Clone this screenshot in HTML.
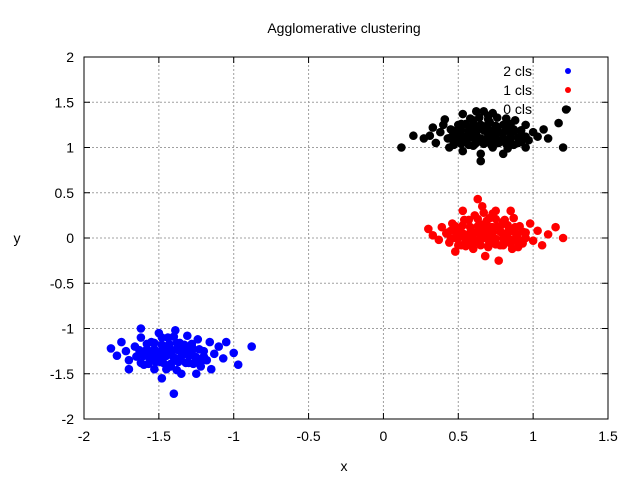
<!DOCTYPE html>
<html><head><meta charset="utf-8"><style>
body{margin:0;background:#fff;}
svg{display:block;font-family:"Liberation Sans",sans-serif;}
</style></head><body>
<svg id="chart" width="640" height="480" viewBox="0 0 640 480">
<rect width="640" height="480" fill="#fff"/>
<g id="grid"></g>
<g id="axes"></g>
<g id="legend"></g>
<g id="pts"></g>
<text x="344" y="33" text-anchor="middle" font-size="14">Agglomerative clustering</text>
<text x="344" y="471" text-anchor="middle" font-size="14">x</text>
<text x="17" y="243" text-anchor="middle" font-size="14">y</text>
</svg>
<script>
const xTicks=[-2,-1.5,-1,-0.5,0,0.5,1,1.5];
const yTicks=[-2,-1.5,-1,-0.5,0,0.5,1,1.5,2];
const seriesNames=["2 cls","1 cls","0 cls"];
const seriesColors=["#0000ff","#ff0000","#000000"];
const cls0=[[0.12,1.0],[0.2,1.13],[0.27,1.1],[0.33,1.22],[0.35,1.05],[0.38,1.17],[0.41,1.31],[0.43,1.1],[0.45,1.2],[0.47,1.03],[0.5,1.14],[0.52,1.26],[0.53,0.96],[0.55,1.08],[0.57,1.19],[0.6,1.3],[0.6,1.02],[0.62,1.13],[0.64,1.24],[0.65,0.93],[0.67,1.06],[0.69,1.17],[0.7,1.35],[0.71,1.28],[0.73,1.0],[0.74,1.11],[0.76,1.22],[0.78,1.07],[0.8,1.16],[0.82,1.27],[0.83,0.99],[0.85,1.1],[0.87,1.2],[0.9,1.05],[0.92,1.14],[0.95,1.25],[0.97,1.08],[1.0,1.17],[1.03,1.12],[1.07,1.2],[1.1,1.1],[1.17,1.27],[1.2,1.0],[1.22,1.42],[0.65,0.85],[0.53,1.37],[0.44,1.0],[0.58,1.12],[0.68,1.22],[0.75,1.15],[0.88,1.3],[0.4,1.25],[0.31,1.13],[0.95,1.0],[0.8,0.93],[0.62,1.4],[0.72,1.05],[0.85,1.18],
[0.47,1.05],[0.52,1.04],[0.57,1.03],[0.62,1.05],[0.67,1.04],[0.72,1.03],[0.77,1.05],[0.82,1.04],[0.87,1.03],[0.92,1.06],
[0.45,1.11],[0.5,1.1],[0.55,1.12],[0.6,1.11],[0.65,1.1],[0.7,1.12],[0.75,1.11],[0.8,1.1],[0.85,1.12],[0.9,1.11],[0.95,1.12],
[0.47,1.18],[0.52,1.19],[0.57,1.18],[0.62,1.17],[0.67,1.19],[0.72,1.18],[0.77,1.17],[0.82,1.19],[0.87,1.18],[0.92,1.19],
[0.5,1.25],[0.55,1.26],[0.6,1.24],[0.65,1.25],[0.7,1.26],[0.75,1.24],[0.8,1.25],[0.85,1.26],
[0.58,1.32],[0.64,1.33],[0.7,1.31],[0.76,1.33],[0.82,1.32],[0.73,1.38],[0.67,1.4]];
const cls1=[[0.3,0.1],[0.33,0.03],[0.37,-0.02],[0.39,0.12],[0.42,0.05],[0.44,-0.05],[0.46,0.16],[0.48,0.0],[0.5,0.09],[0.52,-0.08],[0.54,0.2],[0.55,0.03],[0.57,-0.03],[0.58,0.12],[0.6,-0.12],[0.61,0.25],[0.62,0.06],[0.64,-0.05],[0.65,0.15],[0.66,0.35],[0.67,0.0],[0.69,0.1],[0.7,-0.1],[0.71,0.22],[0.72,0.04],[0.74,-0.04],[0.75,0.3],[0.76,0.13],[0.78,-0.08],[0.79,0.06],[0.8,0.18],[0.82,-0.02],[0.84,0.1],[0.86,-0.12],[0.87,0.22],[0.89,0.03],[0.91,0.13],[0.93,-0.06],[0.95,0.06],[0.98,0.16],[1.0,-0.03],[1.03,0.08],[1.06,-0.08],[1.1,0.04],[1.15,0.12],[1.2,0.0],[0.77,-0.25],[0.63,0.43],[0.53,0.3],[0.85,0.3],[0.48,-0.15],[0.68,-0.2],[0.58,0.05],[0.72,0.12],[0.8,0.0],[0.66,0.08],[0.45,0.08],[0.9,-0.1],
[0.5,-0.08],[0.55,-0.09],[0.6,-0.07],[0.65,-0.08],[0.7,-0.09],[0.75,-0.07],[0.8,-0.08],[0.85,-0.06],[0.9,-0.05],
[0.45,-0.01],[0.5,0.0],[0.55,-0.02],[0.6,-0.01],[0.65,0.0],[0.7,-0.02],[0.75,-0.01],[0.8,0.0],[0.85,-0.02],[0.9,-0.01],[0.95,0.0],
[0.43,0.06],[0.48,0.07],[0.53,0.05],[0.58,0.06],[0.63,0.07],[0.68,0.05],[0.73,0.06],[0.78,0.07],[0.83,0.05],[0.88,0.06],[0.93,0.07],
[0.48,0.13],[0.53,0.14],[0.58,0.12],[0.63,0.13],[0.68,0.14],[0.73,0.12],[0.78,0.13],[0.83,0.14],[0.88,0.12],
[0.57,0.2],[0.63,0.21],[0.69,0.19],[0.75,0.21],[0.81,0.2],[0.67,0.28],[0.73,0.27]];
const cls2=[[-1.82,-1.22],[-1.78,-1.3],[-1.75,-1.15],[-1.72,-1.25],[-1.7,-1.35],[-1.66,-1.2],[-1.64,-1.3],[-1.62,-1.1],[-1.6,-1.4],[-1.58,-1.23],[-1.56,-1.33],[-1.55,-1.15],[-1.53,-1.45],[-1.52,-1.27],[-1.5,-1.05],[-1.49,-1.37],[-1.47,-1.2],[-1.45,-1.3],[-1.44,-1.1],[-1.42,-1.42],[-1.41,-1.24],[-1.39,-1.02],[-1.38,-1.34],[-1.36,-1.16],[-1.35,-1.5],[-1.33,-1.27],[-1.31,-1.08],[-1.3,-1.38],[-1.28,-1.2],[-1.26,-1.31],[-1.24,-1.12],[-1.22,-1.42],[-1.2,-1.25],[-1.18,-1.35],[-1.16,-1.15],[-1.13,-1.28],[-1.1,-1.2],[-1.07,-1.33],[-1.05,-1.15],[-1.0,-1.27],[-0.97,-1.4],[-0.88,-1.2],[-1.4,-1.72],[-1.48,-1.55],[-1.62,-1.0],[-1.25,-1.5],[-1.53,-1.27],[-1.43,-1.27],[-1.37,-1.24],[-1.47,-1.3],[-1.3,-1.22],[-1.6,-1.3],[-1.15,-1.45],[-1.7,-1.45],
[-1.62,-1.38],[-1.57,-1.39],[-1.52,-1.37],[-1.47,-1.38],[-1.42,-1.39],[-1.37,-1.37],[-1.32,-1.38],[-1.27,-1.39],[-1.22,-1.37],
[-1.65,-1.31],[-1.6,-1.3],[-1.55,-1.32],[-1.5,-1.31],[-1.45,-1.3],[-1.4,-1.32],[-1.35,-1.31],[-1.3,-1.3],[-1.25,-1.32],[-1.2,-1.31],
[-1.63,-1.24],[-1.58,-1.25],[-1.53,-1.23],[-1.48,-1.24],[-1.43,-1.25],[-1.38,-1.23],[-1.33,-1.24],[-1.28,-1.25],[-1.23,-1.23],
[-1.58,-1.17],[-1.53,-1.16],[-1.48,-1.18],[-1.43,-1.17],[-1.38,-1.16],[-1.33,-1.18],[-1.28,-1.17],[-1.48,-1.1],[-1.4,-1.09],[-1.45,-1.45],[-1.38,-1.46]];
const NS="http://www.w3.org/2000/svg";
const X0=84,X1=608,Y0=419,Y1=57;
function sx(v){return X0+(v+2)/3.5*(X1-X0);}
function sy(v){return Y0-(v+2)/4*(Y0-Y1);}
function mk(tag,attrs,parent){const e=document.createElementNS(NS,tag);for(const k in attrs)e.setAttribute(k,attrs[k]);parent.appendChild(e);return e;}
const grid=document.getElementById('grid'),axes=document.getElementById('axes'),pts=document.getElementById('pts'),leg=document.getElementById('legend');
xTicks.forEach(t=>{const x=sx(t);
 if(t>-2&&t<1.5){const g=mk('line',{x1:x,x2:x,y1:Y1,y2:Y0,stroke:'#a0a0a0','stroke-dasharray':'2,2','stroke-width':1},grid);
 
 }
 mk('line',{x1:x,x2:x,y1:Y0,y2:Y0-6,stroke:'#000'},axes);
 mk('line',{x1:x,x2:x,y1:Y1,y2:Y1+6,stroke:'#000'},axes);
 const l=mk('text',{x:x,y:Y0+22,'text-anchor':'middle','font-size':14},axes);l.textContent=t;
 
 });
yTicks.forEach(t=>{const y=sy(t);
 if(t>-2&&t<2){const g=mk('line',{x1:X0,x2:X1,y1:y,y2:y,stroke:'#a0a0a0','stroke-dasharray':'2,2','stroke-width':1},grid);
 
 }
 mk('line',{x1:X0,x2:X0+6,y1:y,y2:y,stroke:'#000'},axes);
 mk('line',{x1:X1,x2:X1-6,y1:y,y2:y,stroke:'#000'},axes);
 const l=mk('text',{x:X0-10,y:y+5,'text-anchor':'end','font-size':14},axes);l.textContent=t;
 
 });
mk('rect',{x:X0,y:Y1,width:X1-X0,height:Y0-Y1,fill:'none',stroke:'#000'},axes);
const legY=[71,90,109];
[0,1,2].forEach(idx=>{
 const t=mk('text',{x:532,y:legY[idx]+5,'text-anchor':'end','font-size':14},leg);t.textContent=seriesNames[idx];
 
 
 const c=mk('circle',{cx:568,cy:legY[idx],r:3,fill:seriesColors[idx]},leg);
 
 
});
[[cls2,seriesColors[0],'blue-point'],[cls1,seriesColors[1],'red-point'],[cls0,seriesColors[2],'black-point']].forEach(([d,col,name])=>{
 d.forEach(p=>{const c=mk('circle',{cx:sx(p[0]),cy:sy(p[1]),r:4.3,fill:col},pts);
 
 });
});
</script>
</body></html>
